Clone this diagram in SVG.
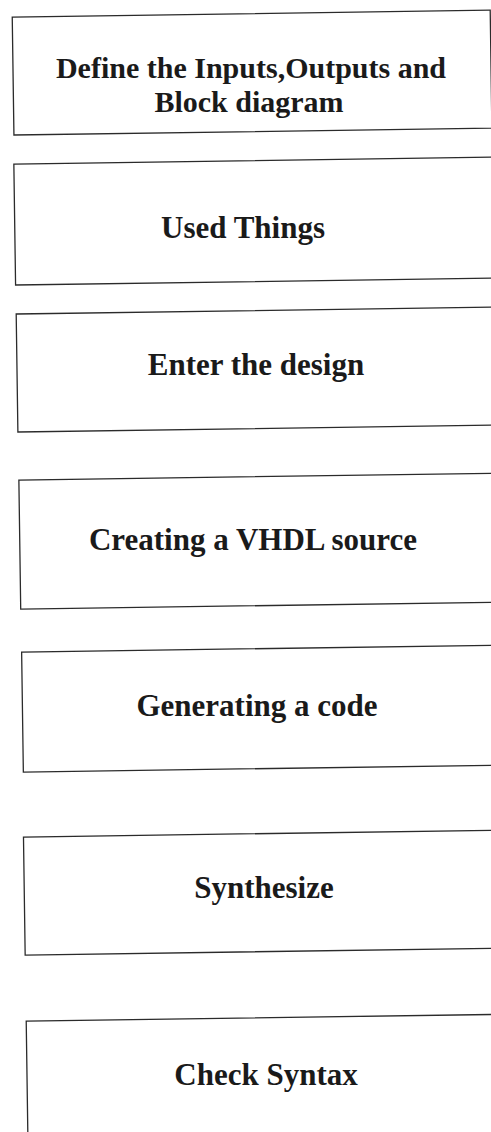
<svg xmlns="http://www.w3.org/2000/svg" width="491" height="1132" viewBox="0 0 491 1132">
<style>
.box{fill:none;stroke:#2b2b2b;stroke-width:1.3}
.lbl{font-family:"Liberation Serif","Times New Roman",serif;font-weight:bold;font-size:31px;fill:#1a1a1a;text-anchor:middle}
.sm{font-size:30px}
</style>
<rect width="491" height="1132" fill="#ffffff"/>
<g id="connectors"></g>
<g id="n1"><rect class="box" x="12" y="17.2" width="478" height="118" transform="rotate(-0.82)"/>
<text class="lbl sm" x="251" y="78.2">Define the Inputs,Outputs and</text>
<text class="lbl sm" x="249" y="111.6">Block diagram</text></g>
<g id="n2"><rect class="box" x="11.5" y="164.2" width="478" height="121" transform="rotate(-0.82)"/>
<text class="lbl" x="243" y="238">Used Things</text></g>
<g id="n3"><rect class="box" x="11.7" y="314.2" width="478" height="118" transform="rotate(-0.82)"/>
<text class="lbl" x="256" y="375">Enter the design</text></g>
<g id="n4"><rect class="box" x="12" y="480.3" width="478" height="129" transform="rotate(-0.82)"/>
<text class="lbl" x="253" y="550">Creating a VHDL source</text></g>
<g id="n5"><rect class="box" x="12.3" y="652.3" width="478" height="120" transform="rotate(-0.82)"/>
<text class="lbl" x="257" y="716">Generating a code</text></g>
<g id="n6"><rect class="box" x="11.5" y="837.3" width="478" height="118" transform="rotate(-0.82)"/>
<text class="lbl" x="264" y="898">Synthesize</text></g>
<g id="n7"><rect class="box" x="11.6" y="1021.4" width="478" height="130" transform="rotate(-0.82)"/>
<text class="lbl" x="266" y="1085">Check Syntax</text></g>
</svg>
